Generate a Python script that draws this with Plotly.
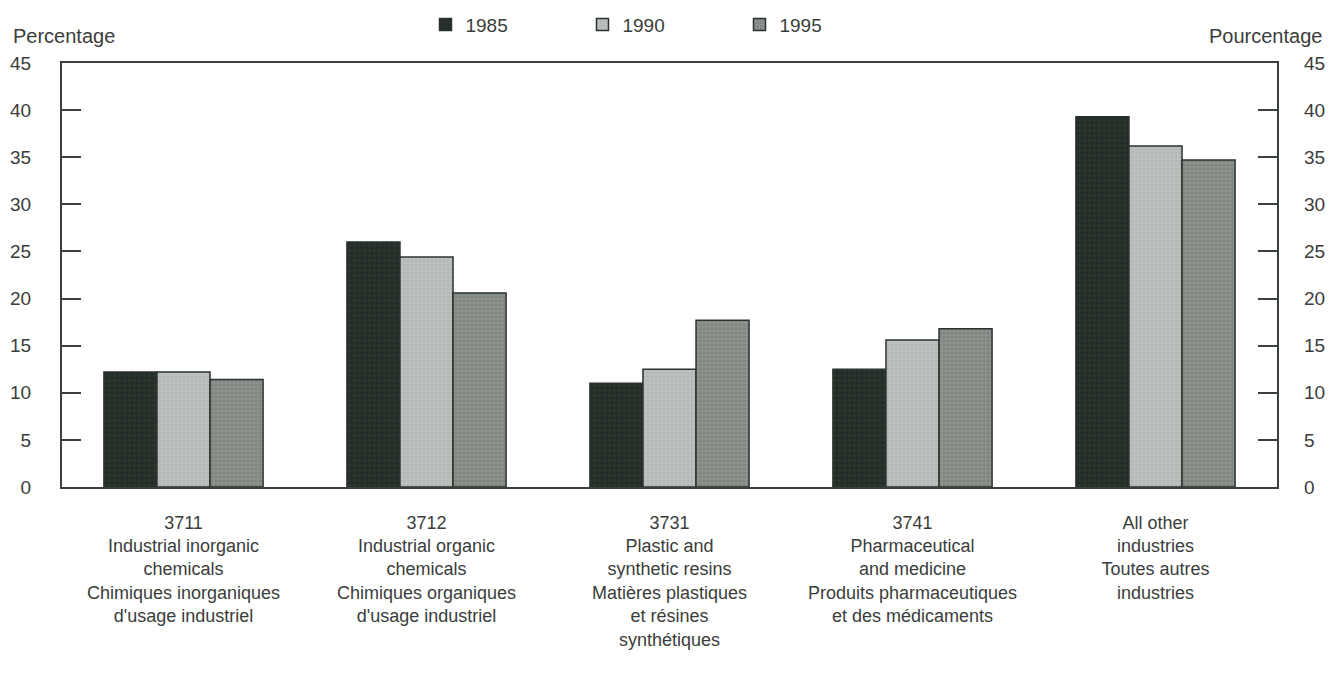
import plotly.graph_objects as go

categories = [
    "3711<br>Industrial inorganic<br>chemicals<br>Chimiques inorganiques<br>d'usage industriel",
    "3712<br>Industrial organic<br>chemicals<br>Chimiques organiques<br>d'usage industriel",
    "3731<br>Plastic and<br>synthetic resins<br>Matières plastiques<br>et résines<br>synthétiques",
    "3741<br>Pharmaceutical<br>and medicine<br>Produits pharmaceutiques<br>et des médicaments",
    "All other<br>industries<br>Toutes autres<br>industries",
]
years = ["1985", "1990", "1995"]
v1985 = [12.2, 26.0, 11.0, 12.5, 39.3]
v1990 = [12.2, 24.4, 12.5, 15.6, 36.2]
v1995 = [11.4, 20.6, 17.7, 16.8, 34.7]
y_ticks = [0, 5, 10, 15, 20, 25, 30, 35, 40, 45]

x_idx = list(range(len(categories)))
font_family = "Liberation Sans, Arial, sans-serif"
text_col = "#3a3d3b"
line_col = "#3a403c"

styles = [
    dict(color="#27302a", pattern=dict(shape=".", fgcolor="#3d4640", bgcolor="#252d28", size=5, solidity=0.2)),
    dict(color="#b9bdb9", pattern=dict(shape=".", fgcolor="#a3a8a4", bgcolor="#bcc0bc", size=4, solidity=0.25)),
    dict(color="#868c87", pattern=dict(shape=".", fgcolor="#6a716c", bgcolor="#8b918c", size=4, solidity=0.3)),
]

fig = go.Figure()
for name, vals, st in zip(years, [v1985, v1990, v1995], styles):
    fig.add_trace(go.Bar(
        x=x_idx, y=vals, name=name,
        marker=dict(color=st["color"], pattern=st["pattern"],
                    line=dict(color="#2b332e", width=1.5)),
    ))

# invisible helper trace so the right-hand axis is drawn
fig.add_trace(go.Scatter(x=x_idx, y=v1985, yaxis="y2", mode="markers",
                         marker=dict(opacity=0), showlegend=False, hoverinfo="skip"))

fig.update_layout(
    width=1317, height=660,
    margin=dict(l=54, r=48, t=55, b=181),
    paper_bgcolor="white", plot_bgcolor="white",
    barmode="group", bargap=0.345, bargroupgap=0,
    font=dict(family=font_family, size=18, color=text_col),
    showlegend=True,
    legend=dict(orientation="h", xref="container", x=0.317, xanchor="left",
                yref="container", y=0.9747, yanchor="middle",
                entrywidth=112, entrywidthmode="pixels",
                font=dict(size=19, color=text_col), traceorder="normal"),
    xaxis=dict(
        range=[-0.5, 4.5], tickmode="array", tickvals=x_idx, ticktext=categories,
        showline=True, linecolor=line_col, linewidth=2, mirror=True,
        ticks="", showgrid=False, zeroline=False, automargin=False,
        tickfont=dict(size=18, color=text_col), ticklabelstandoff=18,
    ),
    yaxis=dict(
        range=[0, 45], tickmode="array", tickvals=y_ticks,
        showline=True, linecolor=line_col, linewidth=2, mirror=True,
        ticks="inside", ticklen=19, tickwidth=2, tickcolor=line_col,
        showgrid=False, zeroline=False, automargin=False,
        tickfont=dict(size=19, color=text_col), ticklabelstandoff=25,
    ),
    yaxis2=dict(
        range=[0, 45], tickmode="array", tickvals=y_ticks, overlaying="y", side="right",
        showline=False, ticks="inside", ticklen=19, tickwidth=2, tickcolor=line_col,
        showgrid=False, zeroline=False, automargin=False,
        tickfont=dict(size=19, color=text_col), ticklabelstandoff=26,
    ),
    annotations=[
        dict(text="Percentage", xref="paper", yref="paper", x=0, y=1,
             xshift=-51, yshift=27, xanchor="left", yanchor="middle", showarrow=False,
             font=dict(size=20, color=text_col)),
        dict(text="Pourcentage", xref="paper", yref="paper", x=1, y=1,
             xshift=47, yshift=27, xanchor="right", yanchor="middle", showarrow=False,
             font=dict(size=20, color=text_col)),
    ],
)

fig.write_html("out.html")
